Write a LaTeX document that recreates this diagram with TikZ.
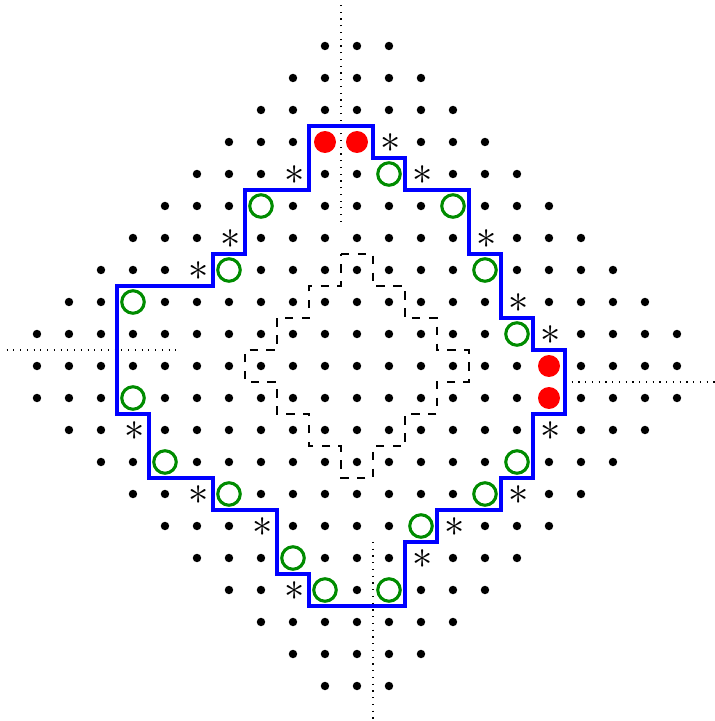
\documentclass[tikz,border=0pt]{standalone}
\makeatletter
\definecolor{ogreen}{RGB}{0,140,0}
\tikzset{
  griddot/.style={circle, fill=black, inner sep=0pt, minimum size=3pt},
  redpt/.style={circle, fill=red, inner sep=0pt, minimum size=7.8pt},
  greenpt/.style={circle, draw=ogreen, line width=1.1pt, inner sep=0pt, minimum size=8pt},
  starpt/.style={inner sep=0pt, font=\fontsize{15}{18}\selectfont, xshift=0.6pt, yshift=-0.3pt},
  boundary/.style={blue, line width=1.2pt},
  corebox/.style={dashed, line width=0.4pt},
  axisline/.style={dotted, line width=0.4pt},
}
\def\skiplist{,-1/7,0/7,6/0,6/-1,1/6,3/5,-3/5,-4/3,4/3,-7/2,5/1,-7/-1,-6/-3,5/-3,-4/-4,4/-4,2/-5,-2/-6,-1/-7,1/-7,1/7,-2/6,2/6,-4/4,4/4,-5/3,5/2,6/1,-7/-2,6/-2,-5/-4,5/-4,-3/-5,3/-5,2/-6,-2/-7,}
\begin{document}
\begin{tikzpicture}[x=0.4cm,y=0.4cm]
\useasboundingbox (-11.156,-11.094) rectangle (11.1875,11.4375);
% dotted axes
\coordinate (la) at (-10.95,0.5); \coordinate (lb) at (-5.5,0.5);
\coordinate (ra) at (6.5,-0.5);  \coordinate (rb) at (11.3,-0.5);
\coordinate (ta) at (-0.5,4.5);  \coordinate (tb) at (-0.5,11.5);
\coordinate (ba) at (0.5,-5.5);  \coordinate (bb) at (0.5,-11.2);
\draw[axisline] (la) -- (lb);
\draw[axisline] (ra) -- (rb);
\draw[axisline] (ta) -- (tb);
\draw[axisline] (ba) -- (bb);
% grid dots
\foreach \i in {-10,...,10}{
  \foreach \j in {-10,...,10}{
    \pgfmathtruncatemacro\dd{abs(\i)+abs(\j)}
    \ifnum\dd<12
      \edef\tmp{\noexpand\in@{,\i/\j,}{\skiplist}}\tmp
      \ifin@\else
        \node[griddot] (dot \i x\j) at (\i,\j) {};
      \fi
    \fi
  }
}
% inner dashed region
\draw[corebox] (-0.5,3.5) -- (0.5,3.5) -- (0.5,2.5) -- (1.5,2.5) -- (1.5,1.5) -- (2.5,1.5) -- (2.5,0.5) -- (3.5,0.5)
  -- (3.5,-0.5) -- (2.5,-0.5) -- (2.5,-1.5) -- (1.5,-1.5) -- (1.5,-2.5) -- (0.5,-2.5) -- (0.5,-3.5) -- (-0.5,-3.5)
  -- (-0.5,-2.5) -- (-1.5,-2.5) -- (-1.5,-1.5) -- (-2.5,-1.5) -- (-2.5,-0.5) -- (-3.5,-0.5) -- (-3.5,0.5) -- (-2.5,0.5)
  -- (-2.5,1.5) -- (-1.5,1.5) -- (-1.5,2.5) -- (-0.5,2.5) -- cycle;
% blue boundary
\draw[boundary] (-1.5,7.5) -- (0.5,7.5) -- (0.5,6.5) -- (1.5,6.5) -- (1.5,5.5) -- (3.5,5.5) -- (3.5,3.5) -- (4.5,3.5)
  -- (4.5,1.5) -- (5.5,1.5) -- (5.5,0.5) -- (6.5,0.5) -- (6.5,-1.5) -- (5.5,-1.5) -- (5.5,-3.5) -- (4.5,-3.5)
  -- (4.5,-4.5) -- (2.5,-4.5) -- (2.5,-5.5) -- (1.5,-5.5) -- (1.5,-7.5) -- (-1.5,-7.5) -- (-1.5,-6.5) -- (-2.5,-6.5)
  -- (-2.5,-4.5) -- (-4.5,-4.5) -- (-4.5,-3.5) -- (-6.5,-3.5) -- (-6.5,-1.5) -- (-7.5,-1.5) -- (-7.5,2.5) -- (-4.5,2.5)
  -- (-4.5,3.5) -- (-3.5,3.5) -- (-3.5,5.5) -- (-1.5,5.5) -- cycle;
% red points
\foreach \p [count=\k] in {(-1,7),(0,7),(6,0),(6,-1)}
  \node[redpt] (r\k) at \p {};
% green circles
\foreach \p [count=\k] in {(1,6),(3,5),(-3,5),(-4,3),(4,3),(-7,2),(5,1),(-7,-1),(-6,-3),(5,-3),(-4,-4),(4,-4),(2,-5),(-2,-6),(-1,-7),(1,-7)}
  \node[greenpt] (g\k) at \p {};
% asterisks
\foreach \p [count=\k] in {(1,7),(-2,6),(2,6),(-4,4),(4,4),(-5,3),(5,2),(6,1),(-7,-2),(6,-2),(-5,-4),(5,-4),(-3,-5),(3,-5),(2,-6),(-2,-7)}
  \node[starpt] (s\k) at \p {$\ast$};
\end{tikzpicture}
\end{document}
